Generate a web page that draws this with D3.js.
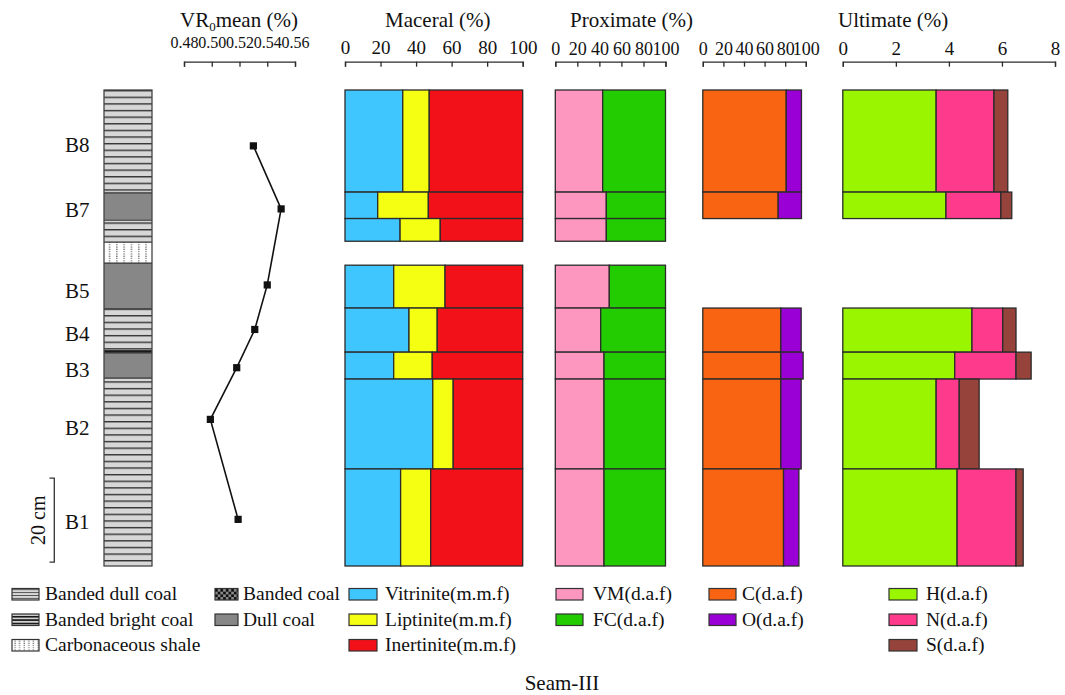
<!DOCTYPE html>
<html>
<head>
<meta charset="utf-8">
<script src="https://cdn.jsdelivr.net/npm/d3@7/dist/d3.min.js"></script>
<style>
  html, body { margin: 0; padding: 0; background: #fff; }
  svg { display: block; font-family: "Liberation Serif", "Times New Roman", serif; }
</style>
</head>
<body>
<svg id="chart" width="1065" height="695"></svg>
<script>
// ---- samples (interval depth in cm below the top of the section) ----
const samples      = ["B8", "B7", "B6", "B5", "B4", "B3", "B2", "B1"];
const sampleLabels = ["B8", "B7", "",   "B5", "B4", "B3", "B2", "B1"];
const sampleTop    = [0,    24.3, 30.6, 41.7, 51.9, 62.4, 68.8, 90.2];
const sampleBottom = [24.3, 30.6, 36.0, 51.9, 62.4, 68.8, 90.2, 113.3];

// ---- maceral composition (m.m.f, %) ----
const vitrinite  = [32.5, 18.4, 31.0, 27.4, 36.0, 27.4, 49.4, 31.3];
const liptinite  = [14.9, 28.5, 22.6, 28.9, 15.9, 21.7, 11.5, 16.9];
const inertinite = [52.6, 53.1, 46.4, 43.7, 48.1, 50.9, 39.1, 51.8];

// ---- proximate analysis (d.a.f, %) ----
const volatileMatter = [43.0, 46.3, 46.3, 49.0, 41.2, 44.2, 44.2, 44.2];
const fixedCarbon    = [57.0, 53.7, 53.7, 51.0, 58.8, 55.8, 55.8, 55.8];

// ---- ultimate analysis (d.a.f, %) ----
const carbon   = [81.0, 73.2, null, null, 75.8, 75.8, 75.8, 78.4];
const oxygen   = [14.8, 22.6, null, null, 19.7, 21.6, 19.7, 14.9];
const hydrogen = [3.52, 3.89, null, null, 4.87, 4.22, 3.52, 4.31];
const nitrogen = [2.18, 2.07, null, null, 1.16, 2.31, 0.87, 2.22];
const sulfur   = [0.52, 0.41, null, null, 0.50, 0.57, 0.75, 0.27];

// ---- vitrinite reflectance ----
const vrDepth = [13.3, 28.3, 46.4, 57.0, 66.1, 78.4, 102.2];
const vrMean  = [0.530, 0.550, 0.540, 0.531, 0.518, 0.499, 0.519];

// ---- lithology log ----
const lithTop    = [0,    24.5, 31,   36.2,  41.2, 52.1, 62.0, 62.6, 68.6];
const lithBottom = [24.5, 31,   36.2, 41.2,  52.1, 62.0, 62.6, 68.6, 113.3];
const lithType   = ["bandedDull", "dull", "bandedDull", "shale", "dull",
                    "bandedDull", "bandedBright", "dull", "bandedDull"];

// ---- ticks ----
const vrTicks  = [0.48, 0.50, 0.52, 0.54, 0.56];
const pctTicks = [0, 20, 40, 60, 80, 100];
const ultTicks = [0, 2, 4, 6, 8];

const svg = d3.select("#chart");
const INK = "#2b2b2b";

// ---------- patterns ----------
const defs = svg.append("defs");
function stripe(id, h, line, y0, bg, fg) {
  const p = defs.append("pattern").attr("id", id).attr("patternUnits", "userSpaceOnUse")
    .attr("width", 10).attr("height", h).attr("y", y0);
  p.append("rect").attr("width", 10).attr("height", h).attr("fill", bg);
  p.append("rect").attr("width", 10).attr("height", line).attr("fill", fg);
}
stripe("bandedDull", 6.62, 1.4, 90, "#d7d7d7", "#333");
stripe("bandedBright", 3, 1.8, 0, "#cfcfcf", "#1a1a1a");
stripe("bandedDullS", 2.9, 0.9, 0.5, "#d7d7d7", "#4a4a4a");
stripe("bandedBrightS", 3.4, 1.6, 0.5, "#d3d3d3", "#111");
(function () {
  const p = defs.append("pattern").attr("id", "shale").attr("patternUnits", "userSpaceOnUse")
    .attr("width", 7.3).attr("height", 2.3).attr("x", 106);
  p.append("rect").attr("width", 7.3).attr("height", 2.3).attr("fill", "#fff");
  p.append("rect").attr("x", 3).attr("y", 0.4).attr("width", 1.1).attr("height", 1.1).attr("fill", "#333");
  const q = defs.append("pattern").attr("id", "shaleS").attr("patternUnits", "userSpaceOnUse")
    .attr("width", 4.6).attr("height", 2.2).attr("x", 13);
  q.append("rect").attr("width", 4.6).attr("height", 2.2).attr("fill", "#fff");
  q.append("rect").attr("x", 1.5).attr("y", 0.4).attr("width", 1).attr("height", 1).attr("fill", "#333");
  const c = defs.append("pattern").attr("id", "checker").attr("patternUnits", "userSpaceOnUse")
    .attr("width", 5.4).attr("height", 5.4).attr("x", 215).attr("y", 589);
  c.append("rect").attr("width", 5.4).attr("height", 5.4).attr("fill", "#8a8a8a");
  c.append("rect").attr("width", 2.7).attr("height", 2.7).attr("fill", "#111");
  c.append("rect").attr("x", 2.7).attr("y", 2.7).attr("width", 2.7).attr("height", 2.7).attr("fill", "#111");
})();
const lithFill = {
  bandedDull: "url(#bandedDull)", bandedBright: "url(#bandedBright)",
  shale: "url(#shale)", dull: "#878787"
};

// ---------- scales ----------
const depth = d3.scaleLinear().domain([0, 113.3]).range([90, 566]);
const xVR   = d3.scaleLinear().domain([0.48, 0.56]).range([184, 295]);
const xMac  = d3.scaleLinear().domain([0, 100]).range([345, 522.7]);
const xProx = d3.scaleLinear().domain([0, 100]).range([555.3, 665.5]);
const xCO   = d3.scaleLinear().domain([0, 100]).range([702.8, 805.8]);
const xUlt  = d3.scaleLinear().domain([0, 8]).range([842.8, 1055]);

// ---------- top axes ----------
const AXIS_Y = 61.7;
function topAxis(scale, ticks, fmt, pad, size) {
  const g = svg.append("g").attr("transform", `translate(0,${AXIS_Y})`)
    .call(d3.axisTop(scale).tickValues(ticks).tickFormat(fmt)
      .tickSizeInner(-5).tickSizeOuter(-5).tickPadding(pad));
  g.select(".domain").attr("stroke", INK).attr("stroke-width", 1.3);
  g.selectAll(".tick line").attr("stroke", INK).attr("stroke-width", 1.3);
  g.selectAll(".tick text").attr("fill", "#111").attr("font-size", size)
    .attr("font-family", "'Liberation Serif', serif");
  return g;
}
topAxis(xVR, vrTicks, d3.format(".2f"), 14, 16);
topAxis(xMac, pctTicks, d3.format("d"), 7.5, 19);
topAxis(xProx, pctTicks, d3.format("d"), 7, 18);
topAxis(xCO, pctTicks, d3.format("d"), 7, 18);
topAxis(xUlt, ultTicks, d3.format("d"), 7, 19);

// ---------- panel titles ----------
const titles = svg.append("g").attr("font-size", 21).attr("fill", "#111");
const vrT = titles.append("text").attr("x", 180).attr("y", 27);
vrT.append("tspan").text("VR");
vrT.append("tspan").attr("font-size", 13).attr("dy", 4).text("0");
vrT.append("tspan").attr("dy", -4).text("mean (%)");
titles.append("text").attr("x", 385).attr("y", 27).text("Maceral (%)");
titles.append("text").attr("x", 570).attr("y", 27).text("Proximate (%)");
titles.append("text").attr("x", 838).attr("y", 27).text("Ultimate (%)");

// ---------- lithology column ----------
const lith = svg.append("g");
lithType.forEach((t, i) => {
  lith.append("rect").attr("x", 104).attr("width", 48)
    .attr("y", depth(lithTop[i])).attr("height", depth(lithBottom[i]) - depth(lithTop[i]))
    .attr("fill", lithFill[t]);
});
lithType.forEach((t, i) => {
  if (i > 0) lith.append("line").attr("x1", 104).attr("x2", 152)
    .attr("y1", depth(lithTop[i])).attr("y2", depth(lithTop[i]))
    .attr("stroke", "#333").attr("stroke-width", 1.2);
});
lith.append("rect").attr("x", 104).attr("width", 48)
  .attr("y", depth(0)).attr("height", depth(113.3) - depth(0))
  .attr("fill", "none").attr("stroke", "#444").attr("stroke-width", 1.3);

// sample labels
svg.append("g").selectAll("text").data(samples).join("text")
  .attr("x", 65)
  .attr("y", (d, i) => (depth(sampleTop[i]) + depth(sampleBottom[i])) / 2 + 4)
  .attr("dy", "0.35em").attr("font-size", 21).attr("fill", "#111")
  .text((d, i) => sampleLabels[i]);

// 20 cm scale bar
const sbBottom = 112.4, sbTop = sbBottom - 20;
svg.append("path")
  .attr("d", `M49.5,${depth(sbTop)}H54.3V${depth(sbBottom)}H49.5`)
  .attr("fill", "none").attr("stroke", "#333").attr("stroke-width", 1.3);
svg.append("text")
  .attr("transform", `translate(45,${(depth(sbTop) + depth(sbBottom)) / 2}) rotate(-90)`)
  .attr("text-anchor", "middle").attr("font-size", 20).attr("fill", "#111").text("20 cm");

// ---------- VR0 profile ----------
const vrLine = d3.line().x((d, i) => xVR(vrMean[i])).y((d, i) => depth(vrDepth[i]));
svg.append("path").datum(vrMean).attr("d", vrLine)
  .attr("fill", "none").attr("stroke", "#111").attr("stroke-width", 1.6);
svg.append("g").selectAll("rect").data(vrMean).join("rect")
  .attr("x", (d) => xVR(d) - 3.6).attr("y", (d, i) => depth(vrDepth[i]) - 3.6)
  .attr("width", 7.2).attr("height", 7.2).attr("fill", "#111");

// ---------- stacked composition bars ----------
function stackedPanel(scale, series, colors) {
  const g = svg.append("g");
  samples.forEach((s, i) => {
    if (series[0][i] == null) return;
    let acc = 0;
    const y0 = depth(sampleTop[i]), y1 = depth(sampleBottom[i]);
    series.forEach((arr, k) => {
      const v = arr[i];
      g.append("rect")
        .attr("x", scale(acc)).attr("width", scale(acc + v) - scale(acc))
        .attr("y", y0).attr("height", y1 - y0)
        .attr("fill", colors[k]).attr("stroke", INK).attr("stroke-width", 1.3);
      acc += v;
    });
  });
}
const cVit = "#40c6ff", cLip = "#f5ff12", cIne = "#f31119";
const cVM = "#fe97c0", cFC = "#22cc00";
const cC = "#f86412", cO = "#9a00d6";
const cH = "#99f600", cN = "#fd3a8c", cS = "#96433c";
stackedPanel(xMac, [vitrinite, liptinite, inertinite], [cVit, cLip, cIne]);
stackedPanel(xProx, [volatileMatter, fixedCarbon], [cVM, cFC]);
stackedPanel(xCO, [carbon, oxygen], [cC, cO]);
stackedPanel(xUlt, [hydrogen, nitrogen, sulfur], [cH, cN, cS]);

// ---------- legend ----------
const legendRows = [594, 619.5, 645];
const legendCols = [
  { sx: 12,  tx: 45,  w: 27, items: [["Banded dull coal", "url(#bandedDullS)"], ["Banded bright coal", "url(#bandedBrightS)"], ["Carbonaceous shale", "url(#shaleS)"]] },
  { sx: 215, tx: 243, w: 23, items: [["Banded coal", "url(#checker)"], ["Dull coal", "#878787"]] },
  { sx: 349, tx: 385, w: 28, items: [["Vitrinite(m.m.f)", cVit], ["Liptinite(m.m.f)", cLip], ["Inertinite(m.m.f)", cIne]] },
  { sx: 556, tx: 593, w: 27, items: [["VM(d.a.f)", cVM], ["FC(d.a.f)", cFC]] },
  { sx: 709, tx: 742, w: 27, items: [["C(d.a.f)", cC], ["O(d.a.f)", cO]] },
  { sx: 889, tx: 926, w: 28, items: [["H(d.a.f)", cH], ["N(d.a.f)", cN], ["S(d.a.f)", cS]] }
];
const leg = svg.append("g");
legendCols.forEach((col) => {
  col.items.forEach(([label, fill], r) => {
    const cy = legendRows[r];
    leg.append("rect").attr("x", col.sx).attr("y", cy - 5.5).attr("width", col.w).attr("height", 11.5)
      .attr("fill", fill).attr("stroke", "#333").attr("stroke-width", 1.2);
    leg.append("text").attr("x", col.tx).attr("y", cy).attr("dy", "0.33em")
      .attr("font-size", 19.5).attr("fill", "#111").text(label);
  });
});

// caption
svg.append("text").attr("x", 562).attr("y", 690).attr("text-anchor", "middle")
  .attr("font-size", 21).attr("fill", "#111").text("Seam-III");
</script>
</body>
</html>
